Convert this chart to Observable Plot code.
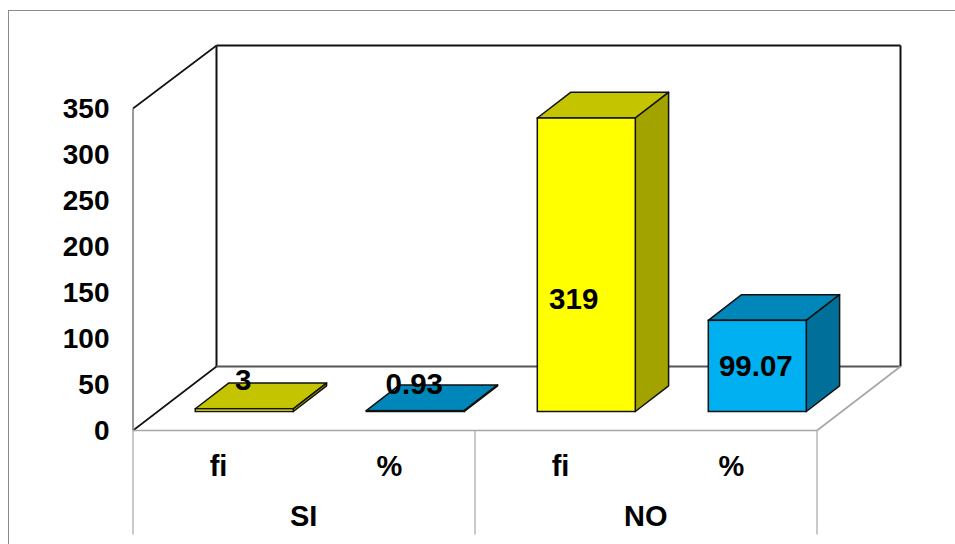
<!DOCTYPE html>
<html>
<head>
<meta charset="utf-8">
<script src="https://cdn.jsdelivr.net/npm/d3@7"></script>
<script src="https://cdn.jsdelivr.net/npm/@observablehq/plot@0.6"></script>
<style>
  html, body { margin: 0; padding: 0; background: #fff; overflow: hidden; }
  #chart { position: relative; width: 955px; height: 544px; }
  #edge { position: absolute; left: 8px; top: 10px; right: 0; bottom: 0;
          border-left: 1.5px solid #8a8a8a; border-top: 1.5px solid #8a8a8a; }
  #chart svg { position: absolute; left: 0; top: 0; display: block; background: transparent; }
</style>
</head>
<body>
<div id="chart"><div id="edge"></div></div>
<script>
// Survey answers, shown as count (fi) and percentage for each response
const groups = ["SI", "SI", "NO", "NO"];
const measures = ["fi", "%", "fi", "%"];
const values = [3, 0.93, 319, 99.07];
const yTicks = [0, 50, 100, 150, 200, 250, 300, 350];
const groupNames = ["SI", "NO"];

// Shading for each face of a column, per measure
const frontColors = {fi: "#ffff00", "%": "#00b0f0"};
const topColors = {fi: "#c4c400", "%": "#0086b8"};
const sideColors = {fi: "#a3a300", "%": "#00709b"};

// Fake-perspective offsets: the whole floor, and where columns sit on it
const floorDepth = {x: 83.5, y: -64, yTop: -63};
const columnDepth = {x: 33.3, y: -25.7};
const columnSeat = {x: 26.3, y: -19};

// Nudges of each value label from the middle of its column
const labelNudgeX = [-1.5, -1.5, -13.1, -2];
const labelNudgeY = [-30, -27, 34, 0];

const rows = values.map((value, i) => ({
  key: `${groups[i]} ${measures[i]}`,
  measure: measures[i],
  value
}));

const svgNS = "http://www.w3.org/2000/svg";
function shape(parent, points, attrs) {
  const el = document.createElementNS(svgNS, "polygon");
  el.setAttribute("points", points.map(p => p.join(",")).join(" "));
  for (const [k, v] of Object.entries(attrs)) el.setAttribute(k, v);
  parent.appendChild(el);
}

// Back wall, side wall, floor and category dividers, derived from the scales
function room(index, scales, channels, dimensions) {
  const g = document.createElementNS(svgNS, "g");
  const left = dimensions.marginLeft;
  const right = dimensions.width - dimensions.marginRight;
  const mid = (left + right) / 2;
  const y0 = scales.y(0);
  const yMax = scales.y(350);
  const {x: dx, y: dy, yTop} = floorDepth;
  const line = (a, b, stroke, width) => shape(g, [a, b], {fill: "none", stroke, "stroke-width": width});
  line([left + dx, yMax + yTop], [right + dx, yMax + yTop], "#111", 2);
  line([right + dx, yMax + yTop], [right + dx, y0 + dy], "#111", 2);
  line([left + dx, yMax + yTop], [left + dx, y0 + dy], "#111", 2);
  line([left + dx, y0 + dy], [right + dx, y0 + dy], "#555", 2);
  line([left, yMax], [left + dx, yMax + yTop], "#111", 1.6);
  line([left, y0], [left + dx, y0 + dy], "#111", 1.6);
  line([left, y0], [left, yMax], "#808080", 1.6);
  line([left, y0], [right, y0], "#a6a6a6", 1.6);
  line([right, y0], [right + dx, y0 + dy], "#a6a6a6", 1.6);
  for (const x of [left, mid, right]) line([x, y0], [x, y0 + 104], "#a6a6a6", 1.2);
  return g;
}

// Adds the top and side faces behind each front rectangle
function extrude(index, scales, channels, dimensions, context, next) {
  const front = next(index, scales, channels, dimensions, context);
  const g = document.createElementNS(svgNS, "g");
  const width = scales.x.bandwidth();
  const {x: sx, y: sy} = columnSeat;
  const {x: dx, y: dy} = columnDepth;
  const edge = {stroke: "#111", "stroke-width": 1.5, "stroke-linejoin": "round"};
  for (const i of index) {
    const d = rows[i];
    const x0 = scales.x(d.key) + sx;
    const x1 = x0 + width;
    const yTop = scales.y(d.value) + sy;
    const yBase = scales.y(0) + sy;
    shape(g, [[x0, yTop], [x1, yTop], [x1 + dx, yTop + dy], [x0 + dx, yTop + dy]], {fill: topColors[d.measure], ...edge});
    shape(g, [[x1, yTop], [x1 + dx, yTop + dy], [x1 + dx, yBase + dy], [x1, yBase]], {fill: sideColors[d.measure], ...edge});
  }
  g.appendChild(front);
  return g;
}

const fontFamily = "Liberation Sans, Arial, sans-serif";
const fontWeight = "bold";

const chart = Plot.plot({
  width: 955,
  height: 544,
  marginLeft: 133,
  marginRight: 138,
  marginTop: 108.5,
  marginBottom: 113.5,
  style: {fontFamily, color: "#000", background: "transparent", overflow: "visible"},
  x: {type: "band", domain: rows.map(d => d.key), paddingInner: 0.426, paddingOuter: 0.205},
  y: {domain: [0, 350]},
  color: {type: "identity"},
  marks: [
    room,
    Plot.axisY({
      ticks: yTicks, tickSize: 0, tickPadding: 24, label: null,
      fontSize: 28, fontWeight, dy: 0.5
    }),
    Plot.axisX({
      tickSize: 0, tickPadding: 24, label: null,
      tickFormat: k => k.split(" ")[1],
      fontSize: 29, fontWeight
    }),
    Plot.text(groupNames, {
      x: g => `${g} %`, y: () => 0, text: g => g,
      dx: -85.8, dy: 86, fontFamily, fontWeight, fontSize: 29, fill: "#000"
    }),
    Plot.rectY(rows, {
      x: "key", y: "value", fill: d => frontColors[d.measure],
      stroke: "#111", strokeWidth: 1.5,
      dx: columnSeat.x, dy: columnSeat.y,
      render: extrude
    }),
    ...rows.map((d, i) => Plot.text([d], {
      x: "key", y: r => r.value / 2, text: r => String(r.value),
      dx: columnSeat.x + labelNudgeX[i], dy: columnSeat.y + labelNudgeY[i],
      fontFamily, fontWeight, fontSize: 29.5, fill: "#000"
    }))
  ]
});

document.getElementById("chart").appendChild(chart);
</script>
</body>
</html>
